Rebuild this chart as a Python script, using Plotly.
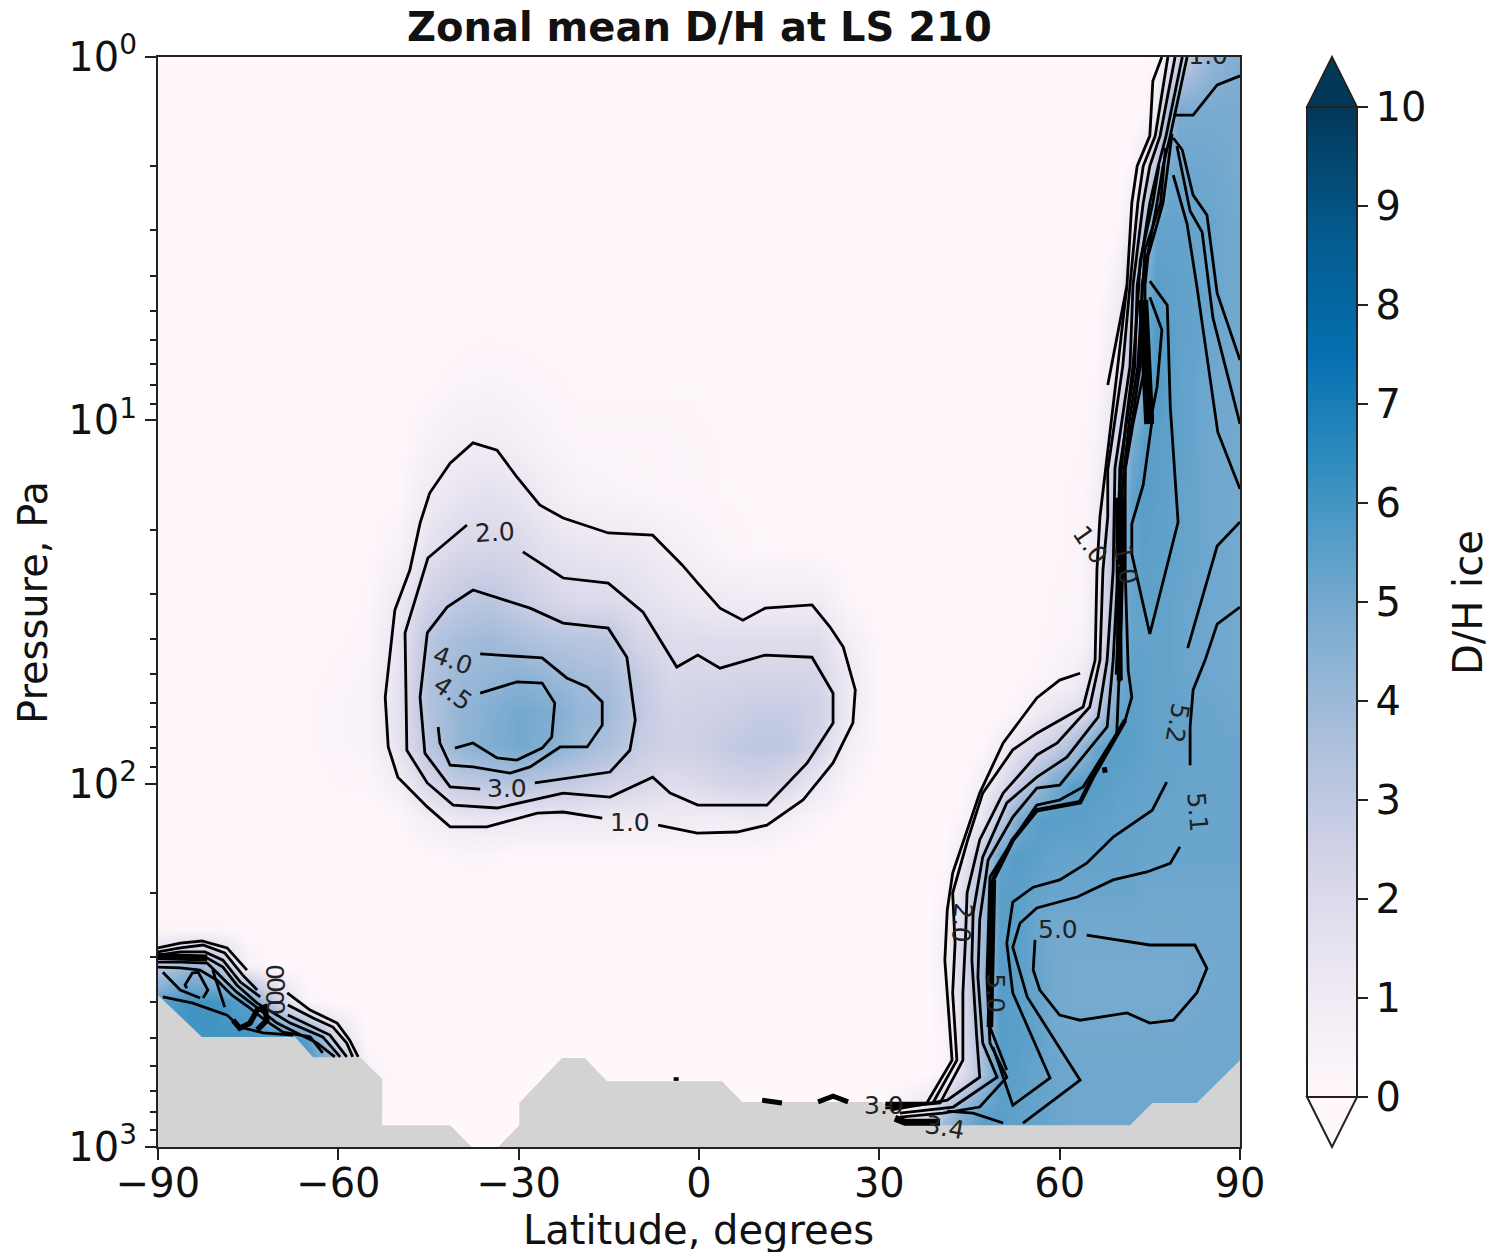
import plotly.graph_objects as go

lat_grid = [-90,-85,-80,-75,-70,-65,-60,-55,
            -50,-45,-40,-35,-30,-25,-20,-15,-10,-5,
            0,5,10,15,20,25,30,35,
            38,41,44,47,50,53,56,59,62,
            64,66,68,70,72,74,76,78,80,85,90]
logp_grid = [0,.15,.3,.45,.6,.75,.9,1.05,1.2,1.35,1.5,1.6,1.7,1.8,1.9,2.0,2.1,2.2,2.3,2.4,2.5,2.6,2.7,2.8,2.9,3.0]

dh_ice = [
 [0,0,0,0,0,0,0,0, 0,0,0,0,0,0,0,0,0,0, 0,0,0,0,0,0,0,0, 0,0,0,0,0,0,0,0,0, 0,0,0,0,0,0,.1,1,2.6,4.2,4.7],
 [0,0,0,0,0,0,0,0, 0,0,0,0,0,0,0,0,0,0, 0,0,0,0,0,0,0,0, 0,0,0,0,0,0,0,0,0, 0,0,0,0,0,.1,1,3.8,4.9,4.9,4.9],
 [0,0,0,0,0,0,0,0, 0,0,0,0,0,0,0,0,0,0, 0,0,0,0,0,0,0,0, 0,0,0,0,0,0,0,0,0, 0,0,0,0,.3,1.4,3.2,4.9,5.1,5.1,4.9],
 [0,0,0,0,0,0,0,0, 0,0,0,0,0,0,0,0,0,0, 0,0,0,0,0,0,0,0, 0,0,0,0,0,0,0,0,0, 0,0,0,.2,1.2,3.2,5.2,5.3,5.3,5.2,5],
 [0,0,0,0,0,0,0,0, 0,0,0,0,0,0,0,0,0,0, 0,0,0,0,0,0,0,0, 0,0,0,0,0,0,0,0,0, 0,0,.2,.8,2.6,4.6,5.5,5.4,5.4,5.2,5],
 [0,0,0,0,0,0,0,0, 0,0,.05,.1,.05,0,0,0,0,0, 0,0,0,0,0,0,0,0, 0,0,0,0,0,0,0,0,0, 0,.1,.6,1.3,3,5,5.7,5.5,5.4,5.2,5],
 [0,0,0,0,0,0,0,0, 0,.1,.3,.4,.3,.2,.1,.1,.1,.1, .1,.05,0,0,0,0,0,0, 0,0,0,0,0,0,0,0,.05, .1,.2,.8,1.8,3.4,5,5.7,5.5,5.4,5.1,5],
 [0,0,0,0,0,0,0,0, 0,.5,.8,.9,.7,.4,.2,.2,.2,.2, .15,.1,.05,0,0,0,0,0, 0,0,0,0,0,0,0,.05,.1, .15,.4,1.2,2.8,4.9,5.5,5.5,5.4,5.4,5.1,5],
 [0,0,0,0,0,0,0,0, .1,1,1.4,1.6,1.4,.9,.5,.4,.3,.2, .2,.1,.1,.05,0,0,0,0, 0,0,0,0,0,0,.05,.1,.15, .2,.7,2,4,5.4,5.6,5.5,5.4,5.3,5.1,5],
 [0,0,0,0,0,0,0,.1, .5,1.6,2.1,2.2,2.1,1.6,1.4,1.3,1.2,.8, .5,.2,.1,.1,.05,0,0,0, 0,0,0,0,0,0,.05,.1,.2, .3,1,2.6,4.5,5.3,5.5,5.4,5.4,5.3,5.1,5],
 [0,0,0,0,0,0,0,.2, 1.1,2.5,3,3.2,2.8,2.3,2,2,1.7,1.4, 1.2,1.1,1,1,1,.2,0,0, 0,0,0,0,0,0,.1,.15,.2, .4,1.2,2.6,4.7,5.3,5.4,5.4,5.3,5.2,5.1,5],
 [0,0,0,0,0,0,.1,.3, 1.4,3.2,3.7,3.9,3.6,3.3,3.2,3.1,2.2,1.9, 1.8,1.8,1.8,1.8,1.8,.8,.1,0, 0,0,0,0,0,.05,.1,.2,.3, .5,1.3,2.8,4.7,5.3,5.3,5.3,5.3,5.2,5.1,5],
 [0,0,0,0,0,.1,.2,.4, 1.5,3.4,4,4.2,4.4,4.1,3.8,3.6,2.9,2.1, 2.2,2.2,2.3,2.3,2.2,1.1,.1,0, 0,0,0,0,0,.1,.2,.4,.7, 1.2,2,3.4,4.9,5.4,5.4,5.3,5.3,5.2,5.1,5],
 [0,0,0,0,0,.1,.3,.5, 1.6,3.4,4.2,4.6,5,4.8,4.2,3.9,3,2.4, 2.5,2.6,2.8,2.8,2.5,1.1,.1,0, 0,0,0,0,.1,.3,1,1.4,1.7, 2,3,4.2,5.3,5.5,5.4,5.3,5.3,5.3,5.2,5.1],
 [0,0,0,0,0,.1,.3,.4, 1.5,3.2,4.2,4.7,5,4.6,4,3.5,2.8,2.5, 2.6,2.9,3.1,3,2.2,.8,.1,0, 0,0,0,.1,.8,1.6,2.2,2.8,3.6, 4.4,5.2,5.5,5.6,5.5,5.4,5.3,5.3,5.3,5.2,5.2],
 [0,0,0,0,0,0,.2,.2, .8,2.2,2.9,3.1,3.3,3,2.8,2.4,2.2,1.8, 2,2.3,2.4,2,1.2,.3,0,0, 0,0,.1,.8,1.7,2.8,3.8,4.9,5.5, 5.6,5.6,5.5,5.4,5.4,5.3,5.3,5.3,5.2,5.2,5.2],
 [0,0,0,0,0,0,0,0, .1,.8,1.2,1.3,1.1,1.1,1.1,1.1,1,1, .9,.9,1,.6,.2,0,0,0, 0,0,.4,1.4,3,4.9,5.5,5.6,5.5, 5.5,5.4,5.4,5.3,5.3,5.3,5.2,5.2,5.2,5.2,5.2],
 [0,0,0,0,0,0,0,0, 0,.1,.2,.2,.1,.1,.1,.1,.1,.1, .1,.1,.1,0,0,0,0,0, 0,.1,1.2,3,5.3,5.6,5.5,5.3,5.3, 5.3,5.3,5.3,5.3,5.3,5.2,5.2,5.2,5.2,5.2,5.2],
 [0,0,0,0,0,0,0,0, 0,0,0,0,0,0,0,0,0,0, 0,0,0,0,0,0,0,0, 0,.4,1.8,3.8,5.5,5.5,5.3,5.2,5.2, 5.2,5.2,5.2,5.2,5.2,5.1,5.1,5.1,5.1,5.1,5.1],
 [.2,.2,.2,0,0,0,0,0, 0,0,0,0,0,0,0,0,0,0, 0,0,0,0,0,0,0,0, 0,.7,2,3.8,5.5,5.5,5.2,5,5, 5.05,5.05,5.05,5.05,5.05,5.05,5.05,5.05,5.05,5.1,5.1],
 [3,4,3.5,.5,0,0,0,0, 0,0,0,0,0,0,0,0,0,0, 0,0,0,0,0,0,0,0, 0,.7,2.2,4,5.6,5.5,5.3,5,4.95, 4.95,4.95,4.95,4.95,4.95,4.95,4.95,4.95,4.95,5,5.1],
 [5.5,6,6,5.5,2.5,.3,0,0, 0,0,0,0,0,0,0,0,0,0, 0,0,0,0,0,0,0,0, 0,.6,2,4,5.6,5.5,5.3,5,4.95, 4.95,4.95,4.95,4.95,4.95,4.95,4.95,4.95,4.95,5.05,5.1],
 [6,6,6,6,6,5.5,2,0, 0,0,0,0,0,0,0,0,0,0, 0,0,0,0,0,0,0,0, 0,.4,1.8,3.8,5.6,5.5,5.4,5.1,5.05, 5.05,5.05,5.05,5.05,5.05,5.05,5.05,5.05,5.05,5.1,5.1],
 [6,6,6,6,6,6,5,.5, 0,0,0,0,0,0,0,0,0,0, 0,0,0,0,0,0,0,0, 0,.4,1.8,3.6,5.5,5.5,5.3,5.2,5.1, 5.1,5.1,5.1,5.1,5.1,5.1,5.1,5.1,5.1,5.1,5.1],
 [6,6,6,6,6,6,6,0, 0,0,0,0,0,0,0,0,0,0, 0,0,0,0,0,0,0,.8, 1.6,3.4,4.6,5.4,5.5,5.4,5.3,5.2,5.1, 5.1,5.1,5.1,5.1,5.1,5.1,5.1,5.1,5.1,5.1,5.1],
 [6,6,6,6,6,6,6,0, 0,0,0,0,0,0,0,0,0,0, 0,0,0,0,0,0,0,3, 4,5,5.4,5.6,5.6,5.4,5.3,5.2,5.1, 5.1,5.1,5.1,5.1,5.1,5.1,5.1,5.1,5.1,5.1,5.1],
]
assert len(dh_ice) == len(logp_grid) and all(len(r) == len(lat_grid) for r in dh_ice)

terrain = [(-90,3),(-90,2.582),(-82.7,2.697),(-67.2,2.697),(-64.2,2.753),(-56.4,2.753),(-52.7,2.813),(-52.7,2.940),
           (-41.4,2.940),(-37.8,3),(-33.4,3),(-29.9,2.940),(-29.9,2.879),(-22.8,2.755),(-19,2.755),(-15.3,2.819),
           (3.8,2.819),(7.2,2.876),(30.6,2.876),(34.3,2.940),(71.7,2.940),(75.4,2.879),(82.8,2.879),(90,2.761),(90,3),(-90,3)]

c1 = [(-6.8,2.114),(-.3,2.136),(6.3,2.133),(11.3,2.114),(17.3,2.045),(22.3,1.943),(25.6,1.833),(26,1.742),(24,1.624),(21.8,1.569),
      (18.8,1.508),(11,1.517),(7.3,1.55),(3.5,1.517),(-.2,1.448),(-2.8,1.398),(-7.7,1.316),(-15.1,1.31),(-22.6,1.269),(-26.5,1.233),
      (-30.3,1.156),(-33.6,1.082),(-37.6,1.062),(-41.4,1.118),(-44.8,1.2),(-46.4,1.283),(-48.1,1.412),(-50.6,1.522),(-52.2,1.762),
      (-51.7,1.899),(-50.1,1.982),(-45.2,2.064),(-41.4,2.119),(-35.3,2.119),(-26.9,2.081),(-22.6,2.078),(-16.1,2.095)]
c2 = [(-29.3,1.362),(-22.6,1.434),(-15.1,1.448),(-9.3,1.528),(-3.7,1.679),(-.2,1.646),(3.5,1.682),(11,1.646),(18.8,1.652),(22.3,1.751),
      (22.3,1.833),(18,1.943),(11.3,2.059),(-.2,2.059),(-4.8,2.026),(-7.7,1.982),(-14.8,2.037),(-22.6,2.026),(-33.6,2.067),(-40.9,2.059),
      (-45.2,1.998),(-48.6,1.908),(-48.9,1.585),(-45.1,1.379),(-38.6,1.288)]
c3 = [(-27.3,1.998),(-14.8,1.968),(-11.5,1.908),(-10.6,1.825),(-12,1.652),(-15.1,1.572),(-22.6,1.558),(-28.1,1.517),(-37.6,1.467),
      (-41.9,1.514),(-45.2,1.585),(-46.4,1.762),(-45.6,1.916),(-41.4,2.009),(-36.4,2.015)]
c4 = [(-36.4,1.643),(-26.1,1.654),(-22,1.709),(-18.6,1.734),(-16.1,1.775),(-16.1,1.839),(-18.6,1.899),(-23.1,1.899),(-28.1,1.954),
      (-31.4,1.971),(-37.6,1.954),(-41.4,1.949),(-43.1,1.888),(-43.4,1.844)]
c45 = [(-36.4,1.751),(-30.3,1.72),(-26.1,1.723),(-24,1.778),(-24.5,1.872),(-26.1,1.902),(-30.3,1.935),(-33.6,1.929),(-37.6,1.888),(-40.6,1.902)]

n_outer_a = [(71.2,.628),(69.5,.779),(68,.903)]
n_outer_b = [(63.4,1.696),(60,1.715),(56.2,1.764),(50.6,1.888),(46.7,2.026),(42.2,2.246),(41.3,2.348),(40.9,2.486),(42.1,2.761),(37.9,2.879),(31,2.879)]
n_f1 = [(77,0),(75.5,.066),(75,.217),(72.9,.3),(72,.402),(71.2,.628),(69.5,.875),(66.7,1.266),(66.2,1.412),(65.9,1.66),(63.9,1.789),(56.2,1.861),
        (52.2,1.907),(47.2,2.026),(44.7,2.155),(42.2,2.301),(42.6,2.439),(42.2,2.576),(42.9,2.761),(38.9,2.879),(31,2.885)]
n_f2 = [(78,0),(75.9,.217),(73.9,.3),(73,.402),(71.7,.628),(70.5,.851),(68,1.137),(68,1.266),(67.2,1.412),(66.7,1.66),(65,1.789),(59.6,1.888),
        (56.2,1.921),(50.6,2.026),(46.7,2.155),(44.6,2.301),(44.3,2.439),(43.9,2.576),(43.9,2.761),(40.1,2.879),(31,2.893)]
n_f3 = [(79.2,0),(76.7,.217),(75,.3),(73.9,.402),(72.2,.628),(71.7,.851),(69.2,1.131),(68.9,1.412),(67.9,1.66),(66.4,1.817),(61.2,1.927),
        (56.2,1.982),(51.2,2.053),(47.2,2.202),(45.6,2.356),(45.4,2.486),(46.2,2.697),(46.7,2.808),(41.3,2.871),(32,2.898)]
n_f4 = [(80.4,0),(77.7,.217),(76.4,.3),(75,.402),(72.9,.628),(72.5,.851),(70,1.131),(69.7,1.412),(68.9,1.66),(67.9,1.844),(60,2.004),
        (56.2,2.012),(52.2,2.092),(48.1,2.21),(46.7,2.375),(46.4,2.532),(47.2,2.714),(49.6,2.808),(42.3,2.89),(33.4,2.907)]
n_f5 = [(81.2,0),(78.4,.217),(77.2,.3),(76.2,.402),(73.7,.628),(73.4,.851),(70.9,1.131),(70.5,1.412),(70,1.66),(69.5,1.861),(63.9,2.009),
        (60,2.045),(56.2,2.059),(52.2,2.155),(48.4,2.257),(47.9,2.532),(48.4,2.714),(51.2,2.808),(46.7,2.89),(40.6,2.907),(33.4,2.918)]
n_f6 = [(78.7,.212),(78,.3),(77.2,.402),(74.7,.548),(74.2,.628),(74.2,.851),(72.2,1.01),(70.9,1.137),(70.9,1.412),(71.4,1.687),(72,1.762),
        (70.9,1.825),(65.5,1.982),(63.4,2.051),(56.2,2.073),(52.2,2.155),(48.9,2.265),(48.4,2.541),(48.4,2.67),(51.2,2.788)]
n_f7 = [(76.5,.3),(75.5,.402),(73.4,.56),(72.9,.7),(72.2,.851),(71,1.01),(69.9,1.2),(69.9,1.5),(69.4,1.7)]
n_f8 = [(77.6,.25),(76.8,.402),(74.2,.53),(73.6,.7),(73,.851),(71.6,1.0),(70.3,1.2),(70.3,1.5),(69.9,1.72)]
n_oval = [(75,.661),(77,.751),(76.2,.908),(75,1.01)]
n_a = [(75,.617),(77.9,.683),(78.4,.963),(79.7,1.28),(75,1.588),(72,1.368),(72,1.285),(73.9,1.178),(75.5,.985)]
n_b = [(78.9,.223),(80.4,.256),(82.2,.38),(84.5,.435),(86.2,.65),(90,.834)]
n_c = [(79.5,.245),(81.7,.424),(83.7,.482),(85.5,.718),(90,1.01)]
n_d = [(78.9,.325),(81.2,.46),(82.8,.628),(86.3,1.032),(90,1.189)]
n_e = [(90,1.28),(86.2,1.346),(81.3,1.627)]
n_f = [(90,1.514),(86.2,1.561),(84.2,1.66),(82.2,1.742),(81.7,1.844),(81.7,1.949)]
n_g = [(77.8,1.996),(75.4,2.073),(68.9,2.147),(64.5,2.219),(60,2.265),(55.6,2.285),(52.2,2.326),(51.2,2.439),(52.2,2.576),(58.4,2.81),(52.2,2.885),(48.9,2.725)]
n_h = [(80,2.174),(78.4,2.219),(74.5,2.243),(68.9,2.265),(62.9,2.312),(56.2,2.342),(53.4,2.384),(52.2,2.45),(54.6,2.587),(63.4,2.816),(53.9,2.934)]
n_i = [(55.9,2.43),(55.6,2.513),(56.7,2.568),(60,2.637),(63.4,2.651),(71.2,2.631),(75,2.659),(78.9,2.651),(82.8,2.576),(84.5,2.508),(82.5,2.444),(75,2.444),(64.5,2.417)]
n_top = [(78.9,.16),(82.2,.16),(86.2,.077),(90,.052)]
n_low = [(50.6,2.934),(45.6,2.907),(41.3,2.901)]
tilde = [(10.5,2.871),(12,2.874),(13.8,2.879)]
caret = [(19.8,2.876),(22.3,2.86),(24.8,2.876)]

s_l1 = [(-90,2.452),(-86.3,2.439),(-82.7,2.433),(-78.5,2.452),(-75.2,2.513),(None,None),(-68.5,2.576),(-64.7,2.623),(-60.2,2.659),(-58.1,2.706),(-56.7,2.752)]
s_l2 = [(-90,2.463),(-86.3,2.452),(-82.5,2.444),(-78.9,2.466),(-75.9,2.527),(-73.5,2.568),(None,None),(-68.4,2.609),(-64.2,2.645),(-60.9,2.67),(-58.6,2.714),(-57.6,2.752)]
s_l3 = [(-90,2.472),(-86.3,2.463),(-82.2,2.463),(-79.2,2.486),(-76.3,2.546),(-73,2.587),(None,None),(-68.4,2.637),(-64.2,2.67),(-61.4,2.692),(-58.6,2.752)]
s_l4 = [(-90,2.48),(-85.8,2.477),(-81.8,2.48),(-79.2,2.505),(-76.9,2.554),(-73.5,2.604),(-68,2.659),(-62.6,2.697),(-59.7,2.752)]
s_l5 = [(-90,2.491),(-86.3,2.491),(-81.8,2.494),(-79.4,2.532),(-76.9,2.574),(-73,2.623),(-70.2,2.659),(-66.9,2.686),(-63.5,2.714),(-60.6,2.752)]
s_l6 = [(-90,2.505),(-86.3,2.507),(-83,2.513),(-80.2,2.541),(-77.7,2.582),(-74.7,2.618),(-72.2,2.651),(-69.2,2.684),(-64.7,2.697),(-62.6,2.741)]
s_l7 = [(-89.2,2.519),(-86.3,2.568),(-83,2.59)]
s_hook = [(-85.2,2.563),(-85.5,2.554),(-84.3,2.521),(-83.3,2.519),(-81.7,2.568),(-82.5,2.59)]
s_l8 = [(-89.2,2.587),(-84.2,2.604),(-78.5,2.637),(-76.4,2.67),(-72.5,2.686),(-67.5,2.692)]
s_l9 = [(-80.9,2.513),(-78.9,2.615)]

thick_inner = [(73.9,.669),(74.4,.834),(74.9,1.01)]
thick_mid = [(69.7,1.213),(70,1.716)]
thick_low = [(70.9,1.825),(65.5,1.982),(63.4,2.051),(56.2,2.073),(52.2,2.155),(48.9,2.265)]
thick_mass = [(48.9,2.265),(48.4,2.541),(48.4,2.67)]
thick_base = [(32.6,2.921),(34.3,2.932),(40.1,2.932)]
thick_left = [(-90,2.476),(-85.8,2.476),(-81.8,2.48)]
thick_scribble = [(-77.5,2.651),(-76.4,2.673),(-74.7,2.659),(-73.5,2.623),(-72.2,2.615),(-71.9,2.651),(-73.5,2.678)]
spot_a = [(-3.8,2.808),(-3.8,2.818)]
spot_b = [(67.4,1.955),(67.6,1.97)]

thin_lines = [c1,c2,c3,c4,c45,n_outer_a,n_outer_b,n_f1,n_f2,n_f3,n_f4,n_f5,n_f6,n_f7,n_f8,n_oval,n_a,n_b,n_c,n_d,n_e,n_f,n_g,n_h,n_i,n_top,n_low,
              s_l1,s_l2,s_l3,s_l4,s_l5,s_l6,s_l7,s_hook,s_l8,s_l9]
heavy_lines = [(tilde,5),(caret,5),(thick_inner,10),(thick_mid,6),(thick_low,4.5),(thick_mass,6.5),(thick_base,7),
               (thick_left,7),(thick_scribble,5.5),(spot_a,5),(spot_b,5)]

labels = [("2.0",-33.9,1.31,-3),("1.0",-11.5,2.108,0),("3.0",-31.9,2.012,0),("4.0",-40.9,1.66,20),("4.5",-40.9,1.751,35),
          ("1.0",65,1.343,55),("1.0",70.9,1.398,80),("5.2",79.5,1.833,100),("5.1",83,2.078,85),("5.0",59.7,2.4,0),
          ("2.0",43.8,2.384,95),("5.0",49.2,2.576,90),("3.0",30.8,2.885,0),("3.4",40.9,2.945,10),
          ("0",-70.5,2.519,90),("0",-70.5,2.554,90),("0",-70.5,2.59,90),("0",-70.4,2.615,90)]
clipped_label = ("1.0",84.7,.002)

pubu = ["#fff7fb","#ece7f2","#d0d1e6","#a6bddb","#74a9cf","#3690c0","#0570b0","#045a8d","#023858"]
FONT = "DejaVu Sans"
W, H = 1492, 1252
L, R, T, B = 158, 1240, 57, 1147
px = lambda v: (v - L) / (R - L)
py = lambda v: (B - v) / (B - T)
INK = "#111"

def split(pts):
    return [p[0] for p in pts], [None if p[1] is None else 10 ** p[1] for p in pts]

fig = go.Figure()
fig.add_trace(go.Heatmap(x=lat_grid, y=[10 ** v for v in logp_grid], z=dh_ice, zmin=0, zmax=10, zsmooth="best",
    colorscale=[[i / 8, c] for i, c in enumerate(pubu)], hoverinfo="skip",
    colorbar=dict(x=px(1307), xanchor="left", xpad=0, y=py(1097), yanchor="bottom", ypad=0, len=990, lenmode="pixels",
                  thickness=50, thicknessmode="pixels", outlinecolor="#222", outlinewidth=2,
                  tickmode="array", tickvals=list(range(11)), ticks="outside", ticklen=10, tickwidth=2, tickcolor="#222",
                  tickfont=dict(family=FONT, size=40, color=INK))))
tx, ty = split(terrain)
fig.add_trace(go.Scatter(x=tx, y=ty, mode="lines", fill="toself", fillcolor="#d3d3d3", line=dict(width=0), hoverinfo="skip", showlegend=False))
for pts in thin_lines:
    x, y = split(pts)
    fig.add_trace(go.Scatter(x=x, y=y, mode="lines", line=dict(color="#000", width=2.8), connectgaps=False, hoverinfo="skip", showlegend=False))
for pts, w in heavy_lines:
    x, y = split(pts)
    fig.add_trace(go.Scatter(x=x, y=y, mode="lines", line=dict(color="#000", width=w), hoverinfo="skip", showlegend=False))
fig.add_trace(go.Scatter(x=[clipped_label[1]], y=[10 ** clipped_label[2]], mode="text", text=[clipped_label[0]],
                         textposition="middle center", textfont=dict(family=FONT, size=25, color="#222"), hoverinfo="skip", showlegend=False))

for text, lat, logp, angle in labels:
    fig.add_annotation(x=lat, y=logp, xref="x", yref="y", text=text, showarrow=False, textangle=angle,
                       font=dict(family=FONT, size=25, color="#222"))

def page_text(text, x, y, size=40, angle=0):
    fig.add_annotation(x=px(x), y=py(y), xref="paper", yref="paper", xanchor="center", yanchor="middle", text=text,
                       showarrow=False, textangle=angle, font=dict(family=FONT, size=size, color=INK))

page_text("Latitude, degrees", 698, 1230)
page_text("Pressure, Pa", 33, 603, angle=-90)
page_text("D/H ice", 1468, 603, angle=-90)
page_text("<b>Zonal mean D/H at LS 210</b>", 699, 27)

cx0, cx1, cxm = px(1307), px(1357), px(1332)
fig.add_shape(type="path", xref="paper", yref="paper", path=f"M {cx0},{py(107)} L {cxm},{py(57)} L {cx1},{py(107)} Z",
              fillcolor="#023858", line=dict(color="#222", width=2))
fig.add_shape(type="path", xref="paper", yref="paper", path=f"M {cx0},{py(1097)} L {cxm},{py(1147)} L {cx1},{py(1097)} Z",
              fillcolor="#fff7fb", line=dict(color="#222", width=2))

minor_vals = [2,3,4,5,6,7,8,9,20,30,40,50,60,70,80,90,200,300,400,500,600,700,800,900]
fig.update_layout(width=W, height=H, margin=dict(l=L, r=W - R, t=T, b=H - B, pad=0, autoexpand=False),
                  paper_bgcolor="white", plot_bgcolor="#fff7fb", showlegend=False)
fig.update_xaxes(range=[-90, 90], tickmode="array", tickvals=[-90,-60,-30,0,30,60,90], ticktext=["\u221290","\u221260","\u221230","0","30","60","90"],
                 ticks="outside", ticklen=11, tickwidth=2, tickcolor="#222", showline=True, linecolor="#222", linewidth=2, mirror=True,
                 showgrid=False, zeroline=False, tickfont=dict(family=FONT, size=40, color=INK), ticklabelstandoff=-11)
fig.update_yaxes(type="log", range=[3, 0], tickmode="array", tickvals=[1,10,100,1000],
                 ticktext=["10<sup>0</sup>","10<sup>1</sup>","10<sup>2</sup>","10<sup>3</sup>"],
                 ticks="outside", ticklen=11, tickwidth=2, tickcolor="#222", showline=True, linecolor="#222", linewidth=2, mirror=True,
                 showgrid=False, zeroline=False, tickfont=dict(family=FONT, size=40, color=INK),
                 minor=dict(tickmode="array", tickvals=minor_vals, ticks="outside", ticklen=6, tickwidth=1.5, tickcolor="#222", showgrid=False))
fig.write_html("out.html", config={"displayModeBar": False},
               post_script="document.body.style.margin='0';document.body.style.overflow='hidden';")
